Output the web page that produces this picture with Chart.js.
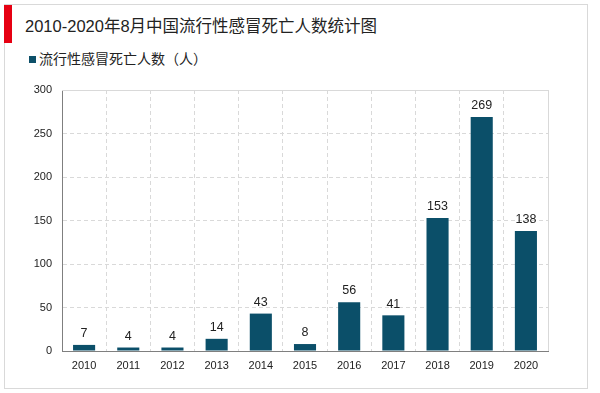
<!DOCTYPE html>
<html><head><meta charset="utf-8">
<script src="https://cdn.jsdelivr.net/npm/chart.js@4/dist/chart.umd.min.js"></script>
<style>
html,body{margin:0;padding:0;background:#fff;}
#wrap{position:relative;width:600px;height:393px;overflow:hidden;font-family:"Liberation Sans",Arial,"Noto Sans CJK SC",sans-serif;}
#frame{position:absolute;left:4px;top:4px;width:584px;height:385px;border:1px solid #d9d9d9;box-sizing:border-box;}
#redbar{position:absolute;left:4px;top:5px;width:8px;height:38px;background:#e60012;}
#title{position:absolute;left:25px;top:13px;font-size:16.5px;color:#222;white-space:nowrap;}
#legend{position:absolute;left:29px;top:48px;font-size:14px;color:#222;white-space:nowrap;}
#legend span.sw{display:inline-block;width:7px;height:7px;background:#0d5069;margin-right:3px;vertical-align:1px;}
canvas{position:absolute;left:0;top:0;}
</style></head>
<body><div id="wrap">
<div id="frame"></div><div id="redbar"></div>
<div id="title">2010-2020年8月中国流行性感冒死亡人数统计图</div>
<div id="legend"><span class="sw"></span>流行性感冒死亡人数（人）</div>
<canvas id="c" width="600" height="393"></canvas>
</div>
<script>
const categories = ['2010','2011','2012','2013','2014','2015','2016','2017','2018','2019','2020'];
const deaths = [7,4,4,14,43,8,56,41,153,269,138];
const yTicks = [0,50,100,150,200,250,300];

const labelPlugin = {
  id:'vals',
  afterDatasetsDraw(chart){
    const ctx = chart.ctx;
    const meta = chart.getDatasetMeta(0);
    ctx.save();
    ctx.font = '12.5px "Liberation Sans", Arial, sans-serif';
    ctx.fillStyle = '#222';
    ctx.textAlign = 'center';
    ctx.textBaseline = 'bottom';
    meta.data.forEach((bar,i)=>{
      ctx.fillText(String(deaths[i]), bar.x, bar.y - 5);
    });
    ctx.restore();
  },
  beforeDatasetsDraw(chart){
    const a = chart.chartArea, ctx = chart.ctx;
    ctx.save();
    ctx.strokeStyle = '#d9d9d9';
    ctx.lineWidth = 1;
    ctx.setLineDash([]);
    ctx.beginPath();
    ctx.moveTo(a.left, Math.round(a.top)+0.5);
    ctx.lineTo(Math.round(a.right)+0.5, Math.round(a.top)+0.5);
    ctx.lineTo(Math.round(a.right)+0.5, a.bottom);
    ctx.stroke();
    ctx.restore();
  }
};

new Chart(document.getElementById('c'),{
  type:'bar',
  data:{labels:categories,datasets:[{label:'流行性感冒死亡人数（人）',data:deaths,backgroundColor:'#0b4f69',barPercentage:0.5,categoryPercentage:1}]},
  options:{
    responsive:false,animation:false,
    layout:{padding:{left:0,right:52,top:90,bottom:0}},
    plugins:{legend:{display:false},tooltip:{enabled:false}},
    scales:{
      x:{
        offset:true,
        grid:{offset:true,color:'#d9d9d9',drawTicks:false},
        border:{color:'#7f7f7f',width:1,dash:[4,3]},
        ticks:{color:'#222',font:{size:11,family:'"Liberation Sans", Arial, sans-serif'},padding:8},
        afterFit(s){s.height=42;}
      },
      y:{
        min:0,max:300,
        afterBuildTicks(s){s.ticks=yTicks.map(v=>({value:v}));},
        grid:{color:'#d9d9d9',drawTicks:false},
        border:{color:'#7f7f7f',width:1,dash:[4,3]},
        ticks:{color:'#222',font:{size:11,family:'"Liberation Sans", Arial, sans-serif'},padding:10},
        afterFit(s){s.width=62;}
      }
    }
  },
  plugins:[labelPlugin]
});
</script>
</body></html>
